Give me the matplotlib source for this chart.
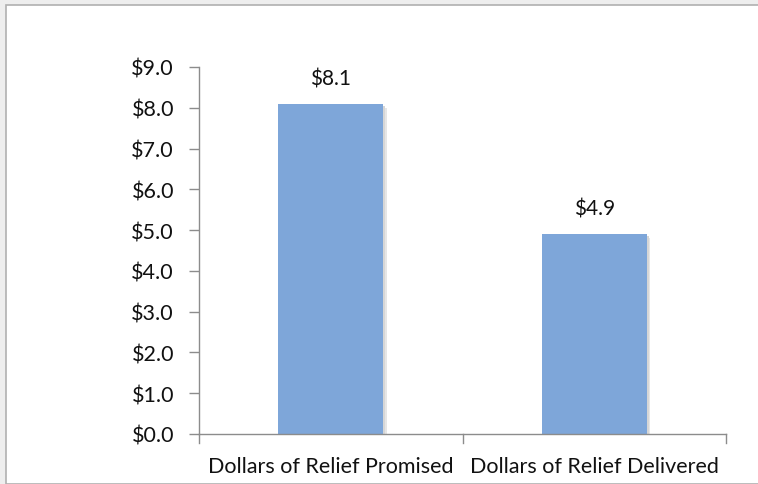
import matplotlib
matplotlib.use("Agg")
import matplotlib.pyplot as plt
from matplotlib import patches

categories = ["Dollars of Relief Promised", "Dollars of Relief Delivered"]
values = [8.1, 4.9]
yticks = [0, 1, 2, 3, 4, 5, 6, 7, 8, 9]

plt.rcParams['font.family'] = ['Lato', 'DejaVu Sans']

W, H = 758, 485
fig = plt.figure(figsize=(W / 100, H / 100), dpi=100)
fig.patch.set_facecolor('#eeeeee')

# white panel with a gray border, like the slide frame
panel = patches.Rectangle((6 / W, 0), 1, 1 - 6 / H, transform=fig.transFigure,
                          facecolor='white', edgecolor='#b0b0b0', linewidth=1.2, zorder=-10)
fig.patches.append(panel)

ax = fig.add_axes([199 / W, 1 - 435 / H, (726 - 199) / W, (435 - 68) / H])
ax.set_facecolor('none')
ax.set_zorder(5)

x = list(range(len(categories)))
bar_color = '#7ea6d9'

# soft shadow behind bars
for xi, v in zip(x, values):
    for k, c in enumerate(['#e6e6e6', '#d6d6d6']):
        off = 0.006 * (2 - k)
        ax.add_patch(patches.Rectangle((xi - 0.2 + off, -0.05 * (2 - k)), 0.4, v,
                                       facecolor=c, edgecolor='none', zorder=1))
ax.bar(x, values, width=0.4, color=bar_color, zorder=2)

for xi, v in zip(x, values):
    ax.text(xi, v + 0.38, f"${v:.1f}", ha='center', va='bottom', fontsize=15, color='#111111')

ax.set_xlim(-0.5, 1.5)
ax.set_ylim(0, 9)
ax.set_yticks(yticks)
ax.set_yticklabels([f"${t:.1f}" for t in yticks], fontsize=15.5, color='#111111')
ax.set_xticks(x)
ax.set_xticklabels(categories, fontsize=15.5, color='#111111')
ax.tick_params(axis='x', length=0, pad=16)
ax.tick_params(axis='y', length=7, width=1, color='#8c8c8c', pad=11)

# category separator ticks on the x axis
for xt in [-0.5, 0.5, 1.5]:
    ax.plot([xt, xt], [0, -0.22], color='#8c8c8c', lw=1, clip_on=False, zorder=3)

for s in ['top', 'right']:
    ax.spines[s].set_visible(False)
for s in ['left', 'bottom']:
    ax.spines[s].set_color('#8c8c8c')
    ax.spines[s].set_linewidth(1)

fig.savefig("out.png", dpi=100)
